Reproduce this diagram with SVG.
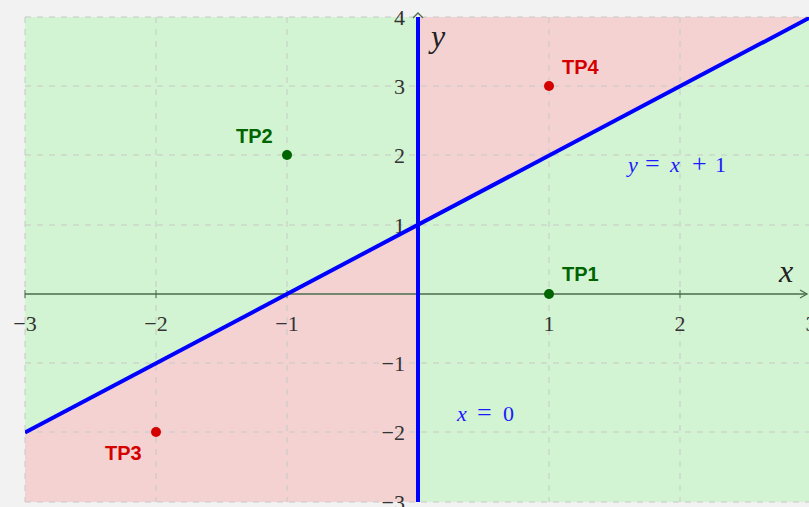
<svg xmlns="http://www.w3.org/2000/svg" width="809" height="507" viewBox="0 0 809 507">
<style>
.grid{stroke:#c8c8c8;stroke-width:1;stroke-dasharray:6 6;fill:none}
.tick{font-family:"Liberation Serif","DejaVu Serif",serif;font-size:22px;fill:#333}
.axl{font-family:"Liberation Serif","DejaVu Serif",serif;font-size:32px;font-style:italic;fill:#222}
.eq{font-family:"Liberation Serif","DejaVu Serif",serif;font-size:22px;fill:#1a1aff}
.it{font-style:italic}
.op{font-size:26px}
.lab{font-family:"Liberation Sans",Arial,sans-serif;font-size:20px;font-weight:bold}
.blue{stroke:#0000ff;stroke-width:4;fill:none}
</style>
<defs>
<marker id="arr" markerWidth="10" markerHeight="10" refX="8" refY="5" orient="auto" markerUnits="userSpaceOnUse">
<path d="M1,1 L8,5 L1,9" fill="none" stroke="#4d6b4d" stroke-width="1.3"/>
</marker>
<clipPath id="plot"><rect x="25" y="17" width="790" height="485"/></clipPath>
</defs>
<rect width="809" height="507" fill="#f2f2f2"/>
<g id="regions">
<rect x="25" y="17" width="790" height="485" fill="#d2f4d2"/>
<polygon points="418,17 811,17 418,224.75" fill="#f4d2d2"/>
<polygon points="25,432.5 418,224.75 418,502 25,502" fill="#f4d2d2"/>
</g>
<g id="grid" class="grid">
<path d="M25,17V502M156,17V502M287,17V502M549,17V502M680,17V502"/>
<path d="M25,17H809M25,86H809M25,155H809M25,225H809M25,363H809M25,432H809M25,502H809"/>
</g>
<g id="axes">
<line x1="25" y1="294" x2="807" y2="294" stroke="#4d6b4d" stroke-width="1.5" marker-end="url(#arr)"/>
<path d="M25,290V298M156,290V298M287,290V298M549,290V298M680,290V298" stroke="#4d6b4d" stroke-width="1"/>
<path d="M413,18 L418,13 L423,18" fill="none" stroke="#4d6b4d" stroke-width="1.3"/>
</g>
<g id="ticklabels" class="tick">
<text x="25" y="331" text-anchor="middle">−3</text>
<text x="156" y="331" text-anchor="middle">−2</text>
<text x="287" y="331" text-anchor="middle">−1</text>
<text x="549" y="331" text-anchor="middle">1</text>
<text x="680" y="331" text-anchor="middle">2</text>
<text x="811" y="331" text-anchor="middle">3</text>
<text x="405" y="25" text-anchor="end">4</text>
<text x="405" y="94" text-anchor="end">3</text>
<text x="405" y="163" text-anchor="end">2</text>
<text x="405" y="233" text-anchor="end">1</text>
<text x="405" y="371" text-anchor="end">−1</text>
<text x="405" y="440" text-anchor="end">−2</text>
<text x="405" y="510" text-anchor="end">−3</text>
</g>
<g id="connectors" clip-path="url(#plot)">
<line class="blue" x1="25" y1="432.5" x2="811" y2="17"/>
<line class="blue" x1="418" y1="17" x2="418" y2="502"/>
</g>
<text class="axl" x="779" y="282">x</text>
<text class="axl" x="431" y="47">y</text>
<text class="eq" y="172"><tspan class="it" x="628">y</tspan><tspan class="op" x="645">=</tspan><tspan class="it" x="670">x</tspan><tspan class="op" x="692">+</tspan><tspan x="715">1</tspan></text>
<text class="eq" y="421"><tspan class="it" x="457">x</tspan><tspan class="op" x="477">=</tspan><tspan x="503">0</tspan></text>
<g id="TP1"><circle cx="549" cy="294" r="5" fill="#006400"/><text class="lab" x="562" y="281" fill="#006400">TP1</text></g>
<g id="TP2"><circle cx="287" cy="155" r="5" fill="#006400"/><text class="lab" x="236" y="143" fill="#006400">TP2</text></g>
<g id="TP3"><circle cx="156" cy="432" r="5" fill="#d40000"/><text class="lab" x="105" y="460" fill="#d40000">TP3</text></g>
<g id="TP4"><circle cx="549" cy="86" r="5" fill="#d40000"/><text class="lab" x="562" y="74" fill="#d40000">TP4</text></g>
</svg>
